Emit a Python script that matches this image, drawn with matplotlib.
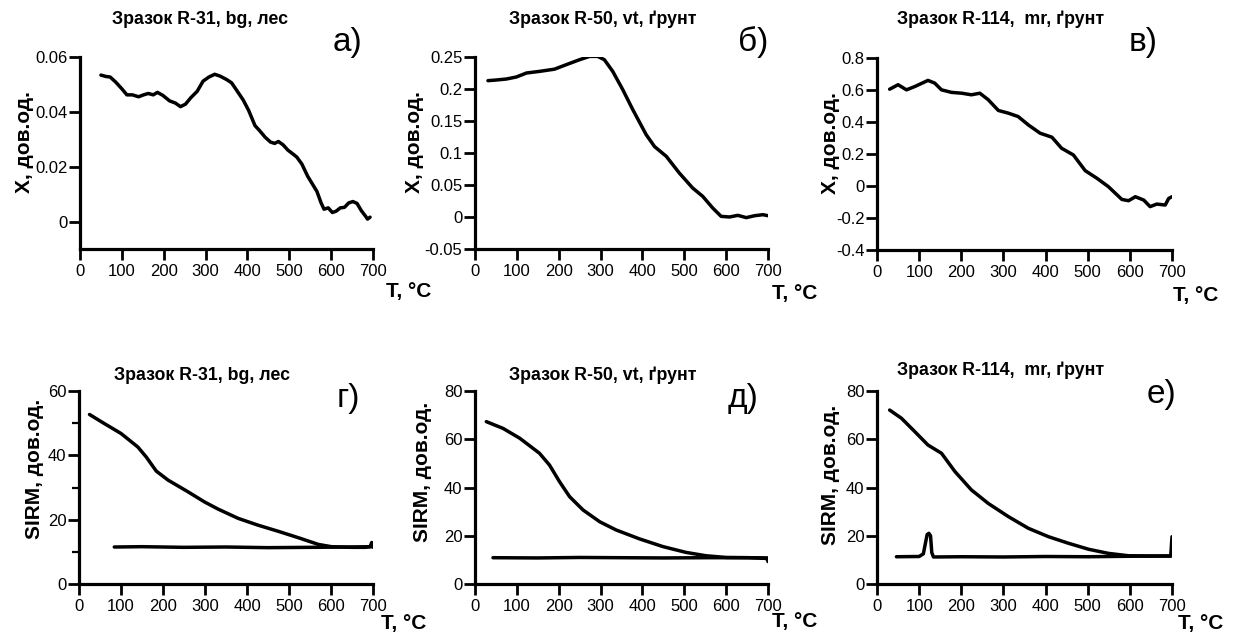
import matplotlib
matplotlib.use("Agg")
import matplotlib.pyplot as plt

plt.rcParams['font.family'] = ['Liberation Sans', 'DejaVu Sans']

W, H = 1237, 637

# ---------------- data ----------------
# a) R-31 susceptibility
a_T = [50, 62, 72, 85, 100, 112, 125, 140, 152, 163, 175, 185, 198, 214, 228, 240, 252,
       265, 280, 294, 308, 322, 335, 350, 362, 375, 390, 403, 418, 430, 442, 455, 465,
       474, 485, 497, 510, 518, 530, 544, 556, 566, 576, 583, 593, 603, 612, 622, 632,
       642, 652, 662, 672, 681, 687, 693]
a_X = [0.0534, 0.0529, 0.0527, 0.0509, 0.0484, 0.0462, 0.0462, 0.0455, 0.0462, 0.0467,
       0.0462, 0.0471, 0.0460, 0.0440, 0.0432, 0.0419, 0.0428, 0.0452, 0.0475, 0.0512,
       0.0527, 0.0537, 0.0530, 0.0518, 0.0506, 0.0477, 0.0443, 0.0405, 0.0350, 0.0330,
       0.0308, 0.0290, 0.0285, 0.0292, 0.0280, 0.0260, 0.0245, 0.0235, 0.0210, 0.0165,
       0.0135, 0.0110, 0.0068, 0.0045, 0.0050, 0.0033, 0.0038, 0.0050, 0.0052, 0.0068,
       0.0073, 0.0066, 0.0040, 0.0022, 0.0009, 0.0016]

# b) R-50 susceptibility
b_T = [31, 50, 75, 99, 123, 155, 190, 218, 250, 274, 293, 309, 329, 353, 377, 409, 429,
       457, 488, 520, 544, 568, 588, 608, 628, 648, 668, 688, 700]
b_X = [0.213, 0.214, 0.2156, 0.2188, 0.225, 0.2276, 0.231, 0.238, 0.2458, 0.251, 0.251,
       0.2458, 0.2276, 0.199, 0.1677, 0.1286, 0.110, 0.0948, 0.0688, 0.0453, 0.0323,
       0.014, 0.001, 0.000, 0.0026, -0.001, 0.002, 0.0036, 0.002]

# в) R-114 susceptibility
c_T = [30, 50, 70, 90, 121, 137, 153, 177, 201, 224, 244, 264, 288, 312, 335, 359, 387,
       415, 438, 466, 494, 522, 549, 581, 597, 613, 633, 648, 664, 684, 692, 700]
c_X = [0.605, 0.633, 0.601, 0.622, 0.660, 0.643, 0.601, 0.585, 0.580, 0.570, 0.580,
       0.539, 0.472, 0.455, 0.434, 0.382, 0.330, 0.305, 0.236, 0.194, 0.096, 0.048,
       -0.004, -0.084, -0.092, -0.067, -0.088, -0.129, -0.113, -0.119, -0.078, -0.067]

# г) R-31 SIRM heating / cooling
d_T_heat = [25, 60, 100, 140, 160, 184, 212, 259, 299, 331, 379, 426, 474, 522, 570,
            601, 649, 681, 693, 697, 700]
d_S_heat = [52.7, 49.9, 46.8, 42.6, 39.5, 35.1, 32.3, 28.7, 25.5, 23.3, 20.4, 18.3,
            16.4, 14.4, 12.3, 11.6, 11.4, 11.4, 11.6, 12.9, 11.5]
d_T_cool = [84, 150, 250, 350, 450, 550, 650, 700]
d_S_cool = [11.5, 11.6, 11.4, 11.5, 11.3, 11.4, 11.5, 11.6]

# д) R-50 SIRM heating / cooling
e_T_heat = [27, 67, 107, 154, 178, 202, 226, 258, 298, 337, 393, 449, 504, 552, 600,
            655, 697, 700]
e_S_heat = [67.3, 64.5, 60.4, 54.2, 49.3, 42.4, 36.2, 30.7, 25.8, 22.4, 18.7, 15.5,
            13.1, 11.7, 11.0, 10.9, 10.6, 9.3]
e_T_cool = [43, 150, 250, 350, 450, 550, 650, 700]
e_S_cool = [10.9, 10.8, 11.0, 10.9, 10.8, 10.9, 10.9, 10.8]

# е) R-114 SIRM heating / cooling
f_T_heat = [30, 58, 90, 121, 153, 185, 224, 264, 312, 359, 407, 454, 502, 549, 597,
            653, 697]
f_S_heat = [72.1, 68.7, 63.1, 57.6, 54.2, 46.6, 39.0, 33.4, 27.9, 23.1, 19.6, 16.9,
            14.4, 12.7, 11.7, 11.6, 11.6]
f_T_cool = [46, 100, 110, 115, 119, 123, 127, 130, 134, 200, 300, 400, 500, 600, 697, 700]
f_S_cool = [11.3, 11.4, 12.5, 17.0, 20.5, 21.0, 20.0, 13.0, 11.2, 11.3, 11.2, 11.4,
            11.3, 11.5, 11.6, 19.6]

titles = ["Зразок R-31, bg, лес", "Зразок R-50, vt, ґрунт", "Зразок R-114,  mr, ґрунт",
          "Зразок R-31, bg, лес", "Зразок R-50, vt, ґрунт", "Зразок R-114,  mr, ґрунт"]
panel_labels = ["а)", "б)", "в)", "г)", "д)", "е)"]
ylabel_top = "X, дов.од."
ylabel_bot = "SIRM, дов.од."
xlabel = "T, °C"

x_ticks = [0, 100, 200, 300, 400, 500, 600, 700]
yticks_list = [
    [0, 0.02, 0.04, 0.06],
    [-0.05, 0, 0.05, 0.1, 0.15, 0.2, 0.25],
    [-0.4, -0.2, 0, 0.2, 0.4, 0.6, 0.8],
    [0, 20, 40, 60],
    [0, 20, 40, 60, 80],
    [0, 20, 40, 60, 80],
]
yticklabels_list = [
    ["0", "0.02", "0.04", "0.06"],
    ["-0.05", "0", "0.05", "0.1", "0.15", "0.2", "0.25"],
    ["-0.4", "-0.2", "0", "0.2", "0.4", "0.6", "0.8"],
    ["0", "20", "40", "60"],
    ["0", "20", "40", "60", "80"],
    ["0", "20", "40", "60", "80"],
]
ylims = [(-0.01, 0.06), (-0.05, 0.25), (-0.4, 0.8), (0, 60), (0, 80), (0, 80)]

# ---------------- layout (pixels) ----------------
ax_px = [  # left, top, right, bottom
    (80, 57, 373, 249), (475, 57, 768, 249), (877, 58, 1172, 250),
    (79, 391, 373, 584), (475, 391, 768, 584), (877, 391, 1172, 584),
]
title_px = [(200, 19), (603, 19), (1001, 19), (202, 375), (603, 375), (1001, 370)]
plabel_px = [(348, 42), (753, 42), (1143, 42), (348, 399), (743, 399), (1161, 394)]
xlabel_px = [(386, 292), (772, 293), (1173, 296), (381, 623), (772, 621), (1178, 623)]
ylabel_px = [(25, 142), (415, 142), (831, 143), (34, 469), (423, 472), (830, 475)]

fig = plt.figure(figsize=(W / 100, H / 100), dpi=100)

def fx(x):
    return x / W

def fy(y):
    return 1 - y / H

series = [
    [(a_T, a_X)], [(b_T, b_X)], [(c_T, c_X)],
    [(d_T_heat, d_S_heat), (d_T_cool, d_S_cool)],
    [(e_T_heat, e_S_heat), (e_T_cool, e_S_cool)],
    [(f_T_heat, f_S_heat), (f_T_cool, f_S_cool)],
]

for i in range(6):
    l, t, r, b = ax_px[i]
    ax = fig.add_axes([fx(l), fy(b), (r - l) / W, (b - t) / H])
    for xs, ys in series[i]:
        ax.plot(xs, ys, color='black', lw=2.5, solid_joinstyle='round', solid_capstyle='round')
    ax.set_xlim(0, 700)
    ax.set_ylim(*ylims[i])
    ax.set_xticks(x_ticks)
    ax.set_xticklabels([str(v) for v in x_ticks])
    ax.set_yticks(yticks_list[i])
    ax.set_yticklabels(yticklabels_list[i])
    if i == 3:
        ax.set_yticks([10, 30, 50], minor=True)
    for s in ['top', 'right']:
        ax.spines[s].set_visible(False)
    for s in ['left', 'bottom']:
        ax.spines[s].set_linewidth(2.3)
    ax.tick_params(axis='both', which='major', direction='out', length=8, width=2,
                   labelsize=12)
    ax.tick_params(axis='y', which='minor', direction='out', length=5, width=1.6)
    ax.tick_params(axis='y', pad=1)
    ax.tick_params(axis='x', pad=3)
    ax.patch.set_alpha(0)

    fig.text(fx(title_px[i][0]), fy(title_px[i][1]), titles[i], ha='center', va='center',
             fontsize=12.8, fontweight='bold')
    fig.text(fx(plabel_px[i][0]), fy(plabel_px[i][1]), panel_labels[i], ha='center',
             va='center', fontsize=24)
    fig.text(fx(xlabel_px[i][0]), fy(xlabel_px[i][1]), xlabel, ha='left', va='center',
             fontsize=15, fontweight='bold')
    fig.text(fx(ylabel_px[i][0]), fy(ylabel_px[i][1]), ylabel_top if i < 3 else ylabel_bot,
             ha='center', va='center', rotation=90, fontsize=15, fontweight='bold')

fig.savefig("out.png", dpi=100)
